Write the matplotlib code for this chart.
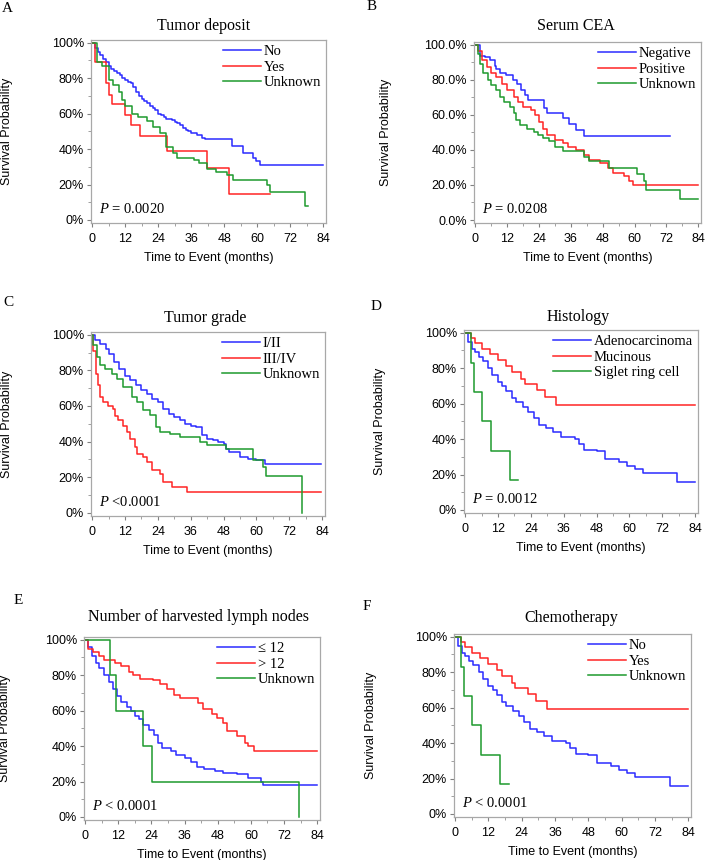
import matplotlib
matplotlib.use('Agg')
import matplotlib.pyplot as plt
from matplotlib.ticker import MultipleLocator, PercentFormatter

plt.rcParams['font.family'] = ['Liberation Sans', 'DejaVu Sans']
plt.rcParams['mathtext.fontset'] = 'custom'
plt.rcParams['mathtext.it'] = 'Liberation Serif:italic'
plt.rcParams['mathtext.rm'] = 'Liberation Serif'

### DATA (months, survival fraction) ###

# A - tumor deposit
dep_no_t = [0, 1, 2, 3, 4, 5, 6, 7, 8, 9, 10, 11, 12, 13, 14, 15, 16, 17, 18, 19, 20, 21, 22, 23, 24,
            25, 26, 27, 29, 30, 31, 32, 33, 34, 35, 36, 38, 40, 41, 51, 55, 58.5, 59.5, 61]
dep_no_s = [1.0, 0.97, 0.95, 0.93, 0.91, 0.89, 0.87, 0.85, 0.84, 0.83, 0.82, 0.80, 0.79, 0.78, 0.77,
            0.75, 0.72, 0.70, 0.68, 0.67, 0.66, 0.64, 0.63, 0.62, 0.60, 0.59, 0.58, 0.57, 0.565, 0.555,
            0.545, 0.535, 0.52, 0.51, 0.50, 0.49, 0.48, 0.465, 0.455, 0.415, 0.38, 0.35, 0.33, 0.31]
dep_yes_t = [0, 1, 5.2, 6, 7.4, 12, 14, 17.4, 27.4, 41.6, 49.6]
dep_yes_s = [1.0, 0.89, 0.77, 0.705, 0.655, 0.59, 0.535, 0.475, 0.39, 0.295, 0.147]
dep_unk_t = [0, 1.7, 3.5, 6, 7.7, 9.6, 10.8, 12, 14.4, 16.8, 20, 22, 24.7, 27, 29.5, 31, 37, 39,
             41.6, 45, 49, 51.3, 63.4, 64.6, 77.3]
dep_unk_s = [1.0, 0.89, 0.87, 0.79, 0.76, 0.72, 0.676, 0.64, 0.60, 0.58, 0.56, 0.526, 0.49, 0.41,
             0.376, 0.35, 0.34, 0.32, 0.29, 0.27, 0.254, 0.225, 0.197, 0.16, 0.079]
dep_end = [84, 64.5, 78.5]

# B - serum CEA
cea_neg_t = [0, 2, 3.7, 5.6, 7.5, 8, 9.3, 11.8, 14.3, 15.6, 17.4, 18.7, 20, 26.1, 27, 33, 35.5, 38, 41]
cea_neg_s = [1.0, 0.938, 0.928, 0.91, 0.88, 0.86, 0.84, 0.825, 0.796, 0.777, 0.74, 0.71, 0.683,
             0.636, 0.608, 0.579, 0.55, 0.513, 0.48]
cea_pos_t = [0, 1, 2.5, 4.5, 6, 8, 10, 12, 14.5, 16, 18, 21, 22.5, 24, 25.5, 27, 30, 33, 35, 38, 41,
             43, 47, 50, 52, 56, 58, 59.5]
cea_pos_s = [1.0, 0.966, 0.91, 0.87, 0.84, 0.815, 0.777, 0.74, 0.70, 0.674, 0.645, 0.626, 0.598,
             0.56, 0.52, 0.485, 0.457, 0.438, 0.419, 0.40, 0.37, 0.343, 0.325, 0.296, 0.268, 0.249,
             0.22, 0.198]
cea_unk_t = [0, 1, 2, 3, 5, 6, 8, 9.5, 11, 13, 14.5, 15.5, 17, 19.5, 22, 23.5, 25.5, 28, 30, 33, 41,
             43, 50.4, 61, 63.5, 64.2, 77]
cea_unk_s = [1.0, 0.947, 0.89, 0.84, 0.796, 0.768, 0.74, 0.70, 0.674, 0.645, 0.608, 0.57, 0.54,
             0.52, 0.503, 0.485, 0.468, 0.449, 0.419, 0.392, 0.36, 0.335, 0.296, 0.26, 0.22, 0.174,
             0.117]
cea_end = [73.4, 84, 84]

# C - tumor grade
gr_12_t = [0, 1, 3, 5, 6, 8, 10, 12, 14, 16, 18, 20, 22, 24, 26, 28, 30, 32, 34, 36, 38, 40, 42, 44,
           46, 48, 49, 50, 54, 57, 60, 63]
gr_12_s = [1.0, 0.968, 0.95, 0.92, 0.89, 0.847, 0.81, 0.77, 0.748, 0.716, 0.688, 0.67, 0.64, 0.62,
           0.585, 0.557, 0.538, 0.52, 0.50, 0.49, 0.48, 0.436, 0.417, 0.407, 0.398, 0.385, 0.36,
           0.34, 0.314, 0.305, 0.295, 0.277]
gr_34_t = [0, 0.5, 1.5, 2.3, 2.9, 4.1, 5.9, 7.8, 8.4, 9.6, 11.4, 12.6, 13.8, 15.7, 16.3, 18.7, 19.9,
           21.7, 24.8, 26, 29, 34.5]
gr_34_s = [1.0, 0.91, 0.78, 0.716, 0.65, 0.62, 0.60, 0.585, 0.546, 0.52, 0.49, 0.454, 0.417, 0.37,
           0.33, 0.314, 0.286, 0.24, 0.22, 0.174, 0.146, 0.118]
gr_unk_t = [0, 0.5, 1.7, 2.9, 4.7, 7.2, 9, 11.4, 14.4, 16.3, 18.7, 21, 23.5, 24.8, 28.4, 32, 39.3,
            41.8, 49, 58.8, 62.4, 63.6, 76.7]
gr_unk_s = [1.0, 0.94, 0.875, 0.83, 0.81, 0.78, 0.75, 0.707, 0.65, 0.62, 0.576, 0.548, 0.48, 0.454,
            0.445, 0.426, 0.398, 0.38, 0.36, 0.295, 0.258, 0.21, 0.0]
gr_end = [83.6, 83.6, 76.7]

# D - histology
hi_ad_t = [0, 1, 2.5, 3.5, 5, 6.5, 8.5, 10, 12, 13.5, 15, 17, 18.5, 21, 23, 25, 27, 29.5, 32, 35, 40,
           41.5, 43.5, 48, 51, 56, 59, 62, 65, 77.5]
hi_ad_s = [1.0, 0.95, 0.91, 0.89, 0.86, 0.84, 0.80, 0.76, 0.72, 0.70, 0.67, 0.63, 0.61, 0.58, 0.55,
           0.52, 0.48, 0.46, 0.44, 0.41, 0.40, 0.37, 0.34, 0.33, 0.29, 0.27, 0.25, 0.23, 0.21, 0.156]
hi_mu_t = [0, 2, 3.6, 6, 9, 12, 15, 17, 20.5, 21.7, 26.3, 29, 33.2]
hi_mu_s = [1.0, 0.97, 0.944, 0.91, 0.88, 0.846, 0.81, 0.78, 0.74, 0.71, 0.677, 0.635, 0.59]
hi_sr_t = [0, 2.2, 3.1, 6, 9.3, 16.3]
hi_sr_s = [1.0, 0.83, 0.667, 0.50, 0.333, 0.167]
hi_end = [84, 84, 19.3]

# E - harvested lymph nodes
ln_le_t = [0, 1, 2.5, 4, 5, 7, 8.5, 10, 11.5, 13, 15, 16.5, 18, 19.5, 21, 23, 25, 26.5, 28, 31, 33,
           36, 38.5, 40.5, 43, 47, 50, 55, 59, 63.5, 64.5]
ln_le_s = [1.0, 0.96, 0.91, 0.87, 0.84, 0.80, 0.76, 0.72, 0.68, 0.65, 0.62, 0.60, 0.57, 0.55, 0.52,
           0.49, 0.46, 0.42, 0.39, 0.37, 0.35, 0.33, 0.31, 0.28, 0.27, 0.26, 0.25, 0.24, 0.22, 0.20,
           0.18]
ln_gt_t = [0, 1, 2.8, 5.2, 7, 10.7, 13, 16, 17.3, 19.8, 24.6, 27, 29.5, 32, 34.3, 41, 42.8, 45.8,
           47.6, 50, 51.3, 55, 58, 59, 61]
ln_gt_s = [1.0, 0.95, 0.93, 0.91, 0.885, 0.87, 0.85, 0.82, 0.80, 0.78, 0.77, 0.75, 0.72, 0.69, 0.67,
           0.64, 0.61, 0.58, 0.56, 0.53, 0.485, 0.455, 0.42, 0.40, 0.37]
ln_unk_t = [0, 8.85, 11, 21, 24.2, 77.3]
ln_unk_s = [1.0, 0.80, 0.60, 0.40, 0.20, 0.0]
ln_end = [84, 84, 77.3]

# F - chemotherapy (same curves as histology panel)
ch_no_t, ch_no_s = hi_ad_t, hi_ad_s
ch_yes_t, ch_yes_s = hi_mu_t, hi_mu_s
ch_unk_t, ch_unk_s = hi_sr_t, hi_sr_s
ch_end = [84, 84, 19.3]

### FUNCTIONS ###

W, H = 708, 860
BLUE, RED, GREEN = '#2b2bff', '#ff2424', '#1e9a2e'
SERIF = ['Liberation Serif', 'DejaVu Serif']


def rect(l, t, r, b):
    return [l / W, 1 - b / H, (r - l) / W, (b - t) / H]


def ftext(fig, x, y, s, size, **kw):
    fig.text(x / W, 1 - y / H, s, size=size, family=SERIF, ha='center', va='center', **kw)


def panel(fig, box, letter, lxy, title, txy, curves, labels, ends, ptxt, ylx, decimals=0):
    ax = fig.add_axes(rect(*box))
    colors = [BLUE, RED, GREEN]
    for (t, s), lab, end, c in zip(curves, labels, ends, colors):
        ax.step(list(t) + [end], list(s) + [s[-1]], where='post', color=c, lw=1.1, label=lab)
    ax.set_xlim(-0.4, 85)
    ax.set_ylim(-0.017, 1.015)
    ax.xaxis.set_major_locator(MultipleLocator(12))
    ax.xaxis.set_minor_locator(MultipleLocator(6))
    ax.yaxis.set_major_locator(MultipleLocator(0.2))
    ax.yaxis.set_minor_locator(MultipleLocator(0.1))
    ax.yaxis.set_major_formatter(PercentFormatter(1.0, decimals=decimals))
    for sp in ax.spines.values():
        sp.set_color('#a8a8a8')
        sp.set_linewidth(0.9)
    ax.tick_params(which='major', length=3, width=0.8, color='#808080', labelsize=9, pad=2)
    ax.tick_params(axis='x', which='major', pad=4)
    ax.tick_params(which='minor', length=2, width=0.6, color='#909090')
    ax.set_xlabel('Time to Event (months)', size=9, labelpad=5)
    ax.set_ylabel('Survival Probability', size=9)
    ax.yaxis.set_label_coords(ylx, 0.5)
    ax.legend(loc='upper right', bbox_to_anchor=(1.0, 1.0), frameon=False,
              prop={'family': SERIF + ['DejaVu Sans'], 'size': 10.5},
              handlelength=2.6, handletextpad=0.2, labelspacing=0.15,
              borderaxespad=0.15, borderpad=0.2)
    ax.text(0.035, 0.075, ptxt, transform=ax.transAxes, size=10.5, family=SERIF, va='center')
    ftext(fig, lxy[0], lxy[1], letter, 11)
    ftext(fig, txy[0], txy[1], title, 11.5)
    return ax

### MAIN PROGRAM ###

fig = plt.figure(figsize=(W / 100, H / 100), dpi=100)

panel(fig, (91, 40, 326, 223), 'A', (7, 8), 'Tumor deposit', (204, 26),
      [(dep_no_t, dep_no_s), (dep_yes_t, dep_yes_s), (dep_unk_t, dep_unk_s)],
      ['No', 'Yes', 'Unknown'], dep_end, r'$P$ = 0.0020', -0.33)
panel(fig, (474, 42, 701, 223), 'B', (372, 7), 'Serum CEA', (576, 26),
      [(cea_neg_t, cea_neg_s), (cea_pos_t, cea_pos_s), (cea_unk_t, cea_unk_s)],
      ['Negative', 'Positive', 'Unknown'], cea_end, r'$P$ = 0.0208', -0.36, decimals=1)
panel(fig, (91, 332, 325, 516), 'C', (8, 303), 'Tumor grade', (205, 318),
      [(gr_12_t, gr_12_s), (gr_34_t, gr_34_s), (gr_unk_t, gr_unk_s)],
      ['I/II', 'III/IV', 'Unknown'], gr_end, r'$P$ <0.0001', -0.333)
panel(fig, (464, 330, 698, 513), 'D', (376, 307), 'Histology', (578, 317),
      [(hi_ad_t, hi_ad_s), (hi_mu_t, hi_mu_s), (hi_sr_t, hi_sr_s)],
      ['Adenocarcinoma', 'Mucinous', 'Siglet ring cell'], hi_end, r'$P$ = 0.0012', -0.333)
panel(fig, (84, 637, 320, 820), 'E', (18, 601), 'Number of harvested lymph nodes', (199, 617),
      [(ln_le_t, ln_le_s), (ln_gt_t, ln_gt_s), (ln_unk_t, ln_unk_s)],
      ['\u2264 12', '> 12', 'Unknown'], ln_end, r'$P$ < 0.0001', -0.31)
panel(fig, (454, 634, 691, 817), 'F', (367, 607), 'Chemotherapy', (571, 618),
      [(ch_no_t, ch_no_s), (ch_yes_t, ch_yes_s), (ch_unk_t, ch_unk_s)],
      ['No', 'Yes', 'Unknown'], ch_end, r'$P$ < 0.0001', -0.325)

fig.savefig('out.png', dpi=100)
